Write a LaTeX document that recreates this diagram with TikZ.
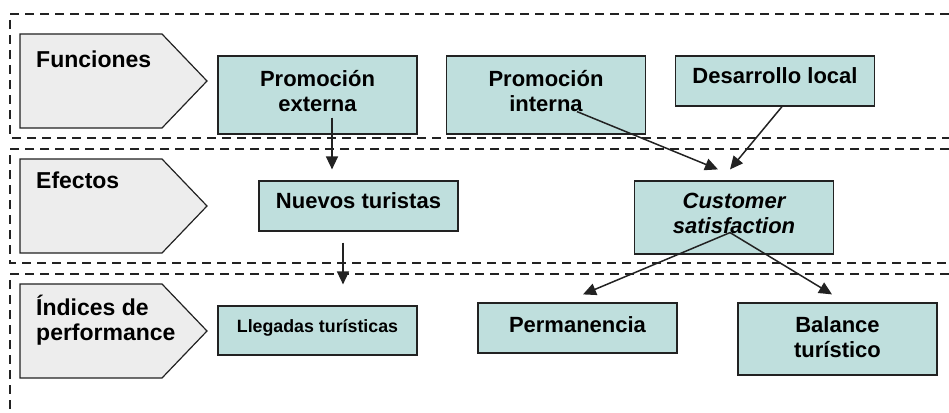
\documentclass[tikz,border=0pt]{standalone}
\usepackage{fontspec}
\setmainfont{Liberation Sans}
\usetikzlibrary{arrows.meta}
\definecolor{boxfill}{HTML}{BFDFDD}
\definecolor{tagfill}{HTML}{EDEDED}
\definecolor{ink}{HTML}{222222}
% strut below the text, pushes it up inside its box
\newcommand{\lift}[1]{\rule[-#1]{0pt}{#1}}

\begin{document}
\begin{tikzpicture}[x=1pt,y=-1pt,
    box/.style={draw=ink,line width=1.2pt,fill=boxfill,minimum width=199pt,
      inner sep=0pt,align=center,font=\fontsize{22}{25}\selectfont\bfseries},
    tag/.style={draw=ink,line width=1.2pt,fill=tagfill},
    tagtext/.style={anchor=base west,inner sep=0pt,align=left,
      font=\fontsize{23}{25}\selectfont\bfseries},
    band/.style={ink,line width=1.5pt,dash pattern=on 9pt off 6pt},
    arr/.style={ink,line width=1.5pt,-{Triangle[length=13pt,width=12pt]}}]
  \useasboundingbox (0,0) rectangle (949,412);
  % bands
  \draw[band] (949,14) -- (10,14) -- (10,138) -- (949,138);
  \draw[band] (949,149) -- (10,149) -- (10,263) -- (949,263);
  \draw[band] (949,274) -- (10,274) -- (10,412);
  % tags
  \foreach \t in {34,159,284}
    \draw[tag] (20,\t) -- (162,\t) -- (207,\t+47) -- (162,\t+94) -- (20,\t+94) -- cycle;
  \node[tagtext] (fun) at (36,67) {Funciones};
  \node[tagtext] (efe) at (36,188) {Efectos};
  \node[tagtext] (ind) at (36,340) {Índices de\\performance};
  % boxes
  \node[box,minimum height=78pt] (pe) at (317.5,95) {Promoción\\externa\lift{8pt}};
  \node[box,minimum height=78pt] (pi) at (546,95) {Promoción\\interna\lift{8pt}};
  \node[box,minimum height=50pt] (dl) at (775,81) {Desarrollo local\lift{10pt}};
  \node[box,minimum height=50pt] (nt) at (358.5,206) {Nuevos turistas\lift{10pt}};
  \node[box,minimum height=73pt] (cs) at (734,217.5) {\itshape Customer\\\itshape satisfaction\lift{8pt}};
  \node[box,minimum height=49pt,font=\fontsize{17.8}{20}\selectfont\bfseries] (ll) at (317.5,330.5) {Llegadas turísticas\lift{10pt}};
  \node[box,minimum height=50pt] (pm) at (577.5,328) {Permanencia\lift{6pt}};
  \node[box,minimum height=72pt] (bt) at (837.5,339) {Balance\\turístico\lift{4pt}};
  % links
  \draw[arr] ([xshift=14.5pt,yshift=17pt]pe.south) -- ([xshift=-26.5pt,yshift=11pt]nt.north);
  \draw[arr] ([xshift=-15.5pt,yshift=-11pt]nt.south) -- ([xshift=25.5pt,yshift=21pt]ll.north);
  \draw[arr] ([xshift=31pt,yshift=23pt]pi.south) -- ([xshift=-16pt,yshift=11pt]cs.north);
  \draw[arr] ([xshift=7pt]dl.south) -- ([xshift=-4pt,yshift=11pt]cs.north);
  \draw[arr] ([xshift=-4pt,yshift=22pt]cs.south) -- ([xshift=5.5pt,yshift=8pt]pm.north);
  \draw[arr] ([xshift=-4pt,yshift=22pt]cs.south) -- ([xshift=-5.5pt,yshift=8pt]bt.north);
\end{tikzpicture}
\end{document}
